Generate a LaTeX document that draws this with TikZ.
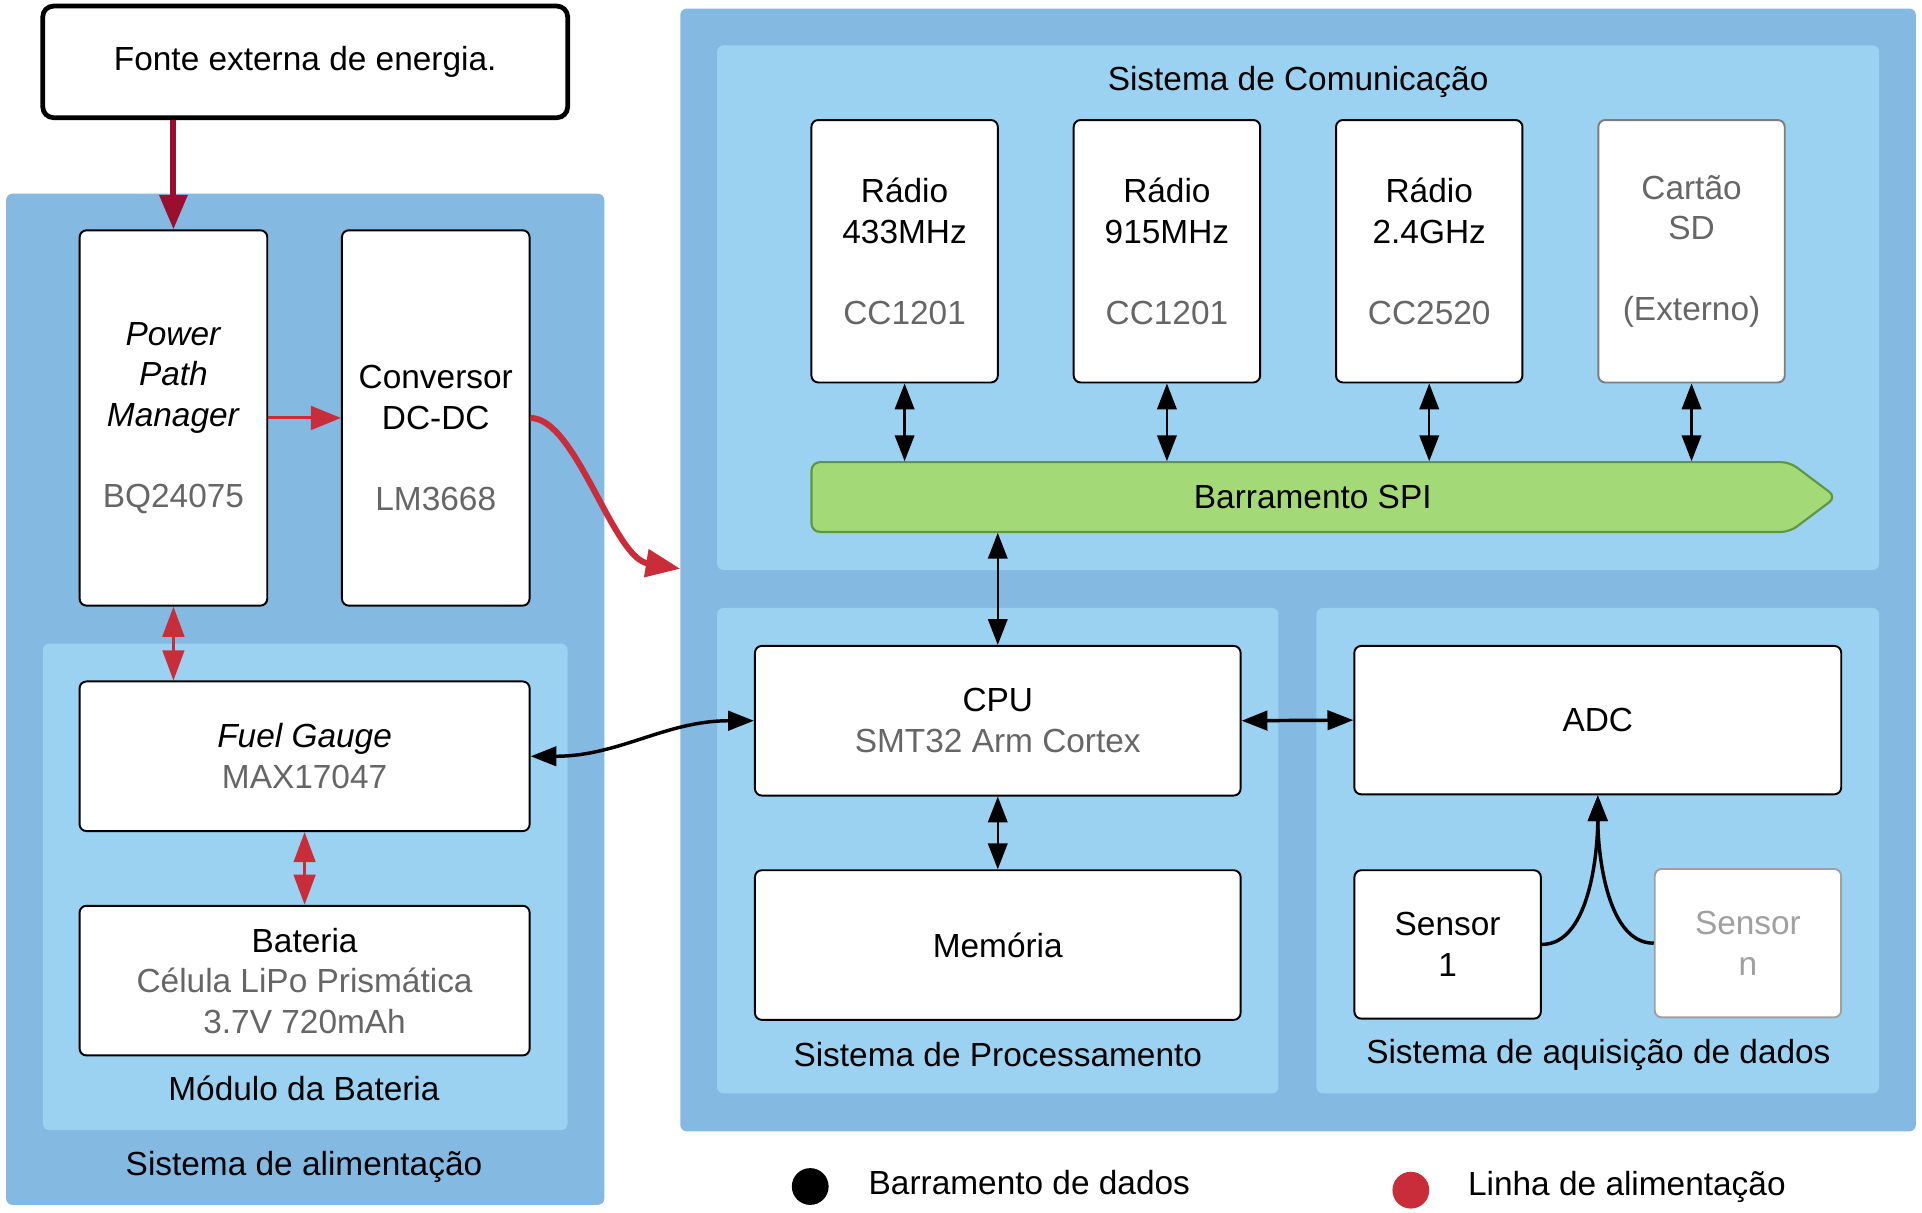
\documentclass[tikz,border=0pt]{standalone}
\usepackage{fontspec}
\setmainfont{Liberation Sans}
\usetikzlibrary{arrows.meta}

\definecolor{outerblue}{RGB}{132,185,226}
\definecolor{innerblue}{RGB}{155,210,242}
\definecolor{busgreen}{RGB}{163,217,119}
\definecolor{busedge}{RGB}{95,150,65}
\definecolor{pwrred}{RGB}{201,45,58}
\definecolor{srcred}{RGB}{155,14,46}
\definecolor{txtgray}{RGB}{102,102,102}
\definecolor{cardgray}{RGB}{125,125,125}
\definecolor{ghost}{RGB}{160,160,160}

\newcommand{\chip}[1]{{\color{txtgray}#1}}

\tikzset{
	box/.style={draw=black,fill=white,rounded corners=1.6pt,line width=0.45pt,align=center,inner sep=0pt},
	panel/.style={fill=outerblue,rounded corners=1.5pt},
	subpanel/.style={fill=innerblue,rounded corners=1.5pt},
	data/.style={line width=0.55pt,{Triangle[length=6pt,width=4.5pt]}-{Triangle[length=6pt,width=4.5pt]}},
	pwr/.style={pwrred,line width=0.7pt,{Triangle[length=7pt,width=5pt]}-{Triangle[length=7pt,width=5pt]}},
	legend/.style={anchor=west,inner sep=0pt}
}

\begin{document}
\begin{tikzpicture}[x=0.01cm,y=-0.01cm,font=\fontsize{7.75}{9.4}\selectfont]
	\useasboundingbox (0,0) rectangle (1568,989);

	%panels
	\fill[panel] (5,158) rectangle (493,983); %alimentacao
	\fill[subpanel] (35,525) rectangle (463,922); %bateria
	\fill[panel] (555,7) rectangle (1563,923);
	\fill[subpanel] (585,37) rectangle (1533,465); %comunicacao
	\fill[subpanel] (585,496) rectangle (1043,892); %processamento
	\fill[subpanel] (1074,496) rectangle (1533,892); %aquisicao
	\coordinate (pin) at (555,464);

	%panel labels
	\node (alim) at (248,952) {Sistema de alimentação};
	\node (modbat) at (248,888) {Módulo da Bateria};
	\node (comm) at (1059,67) {Sistema de Comunicação};
	\node (proc) at (814,860) {Sistema de Processamento};
	\node (aquis) at (1304,861) {Sistema de aquisição de dados};

	%power side
	\node[box,line width=1.1pt,rounded corners=2.5pt,minimum width=4.28cm,minimum height=0.91cm] (fonte) at (249,50.5) {Fonte externa de energia.};
	\node[box,minimum width=1.53cm,minimum height=3.06cm] (ppm) at (141.5,341) {\textit{Power}\\\textit{Path}\\\textit{Manager}\\[9.4pt]\chip{BQ24075}};
	\node[box,minimum width=1.53cm,minimum height=3.06cm] (conv) at (355.5,341) {\vphantom{P}\\Conversor\\DC-DC\\[9.4pt]\chip{LM3668}};
	\node[box,minimum width=3.67cm,minimum height=1.22cm] (fuel) at (248.5,617) {\textit{Fuel Gauge}\\\chip{MAX17047}};
	\node[box,minimum width=3.67cm,minimum height=1.22cm] (bat) at (248.5,800) {Bateria\\\chip{Célula LiPo Prismática}\\\chip{3.7V 720mAh}};

	%comunicacao
	\node[box,minimum width=1.52cm,minimum height=2.14cm] (r433) at (738,205) {Rádio\\433MHz\\[9.4pt]\chip{CC1201}};
	\node[box,minimum width=1.52cm,minimum height=2.14cm] (r915) at (952,205) {Rádio\\915MHz\\[9.4pt]\chip{CC1201}};
	\node[box,minimum width=1.52cm,minimum height=2.14cm] (r24) at (1166,205) {Rádio\\2.4GHz\\[9.4pt]\chip{CC2520}};
	\node[box,draw=cardgray,minimum width=1.52cm,minimum height=2.14cm] (sd) at (1380,205) {\chip{Cartão}\\\chip{SD}\\[9.4pt]\chip{(Externo)}};
	\filldraw[fill=busgreen,draw=busedge,line width=0.5pt,rounded corners=2pt] (662,377) -- (1460,377) -- (1498,405.5) -- (1460,434) -- (662,434) -- cycle; %bus
	\node[minimum height=0.57cm,inner sep=0pt] (spi) at (1071,405.5) {Barramento SPI};

	%processamento + aquisicao
	\node[box,minimum width=3.96cm,minimum height=1.22cm] (cpu) at (814,588) {CPU\\\chip{SMT32 Arm Cortex}};
	\node[box,minimum width=3.96cm,minimum height=1.22cm] (mem) at (814,771) {Memória};
	\node[box,minimum width=3.97cm,minimum height=1.21cm] (adc) at (1303.5,587.5) {ADC};
	\node[box,minimum width=1.52cm,minimum height=1.21cm] (s1) at (1181,770.5) {Sensor\\1};
	\node[box,draw=ghost,text=ghost,minimum width=1.52cm,minimum height=1.21cm] (sn) at (1426,769.5) {Sensor\\n};

	%data lines
	\draw[data] (r433.south) -- (r433.south |- spi.north);
	\draw[data] (r915.south) -- (r915.south |- spi.north);
	\draw[data] (r24.south) -- (r24.south |- spi.north);
	\draw[data] (sd.south) -- (sd.south |- spi.north);
	\draw[data] (cpu.north |- spi.south) -- (cpu.north);
	\draw[data,line width=0.8pt] (cpu.east) -- (adc.west);
	\draw[data] (cpu) -- (mem);
	\draw[data,line width=0.8pt] (fuel.east) to[out=0,in=180] (cpu.west);
	\draw[line width=0.8pt,-{Triangle[length=6pt,width=4.5pt]}] (s1.east) to[out=0,in=-90,looseness=0.8] (adc.south); %sensor 1
	\draw[line width=0.8pt,-{Triangle[length=6pt,width=4.5pt]}] (sn.west) to[out=180,in=-90,looseness=0.8] (adc.south); %sensor n

	%power lines
	\draw[srcred,line width=1.4pt,-{Triangle[length=8pt,width=6.3pt]}] (ppm.north |- fonte.south) -- (ppm.north);
	\draw[pwr,-{Triangle[length=7pt,width=5.5pt]}] (ppm) -- (conv);
	\draw[pwrred,line width=1.4pt,-{Triangle[length=8pt,width=6.3pt]}] (conv.east) .. controls +(37,0) and +(-55,-9) .. (pin);
	\draw[pwr] (ppm.south) -- (ppm.south |- fuel.north);
	\draw[pwr] (fuel) -- (bat);

	%legend
	\node[circle,fill=black,minimum size=0.3cm,inner sep=0pt] (dotdata) at (661,968) {};
	\node[legend] (legdata) at (708,965) {Barramento de dados};
	\node[circle,fill=pwrred,minimum size=0.3cm,inner sep=0pt] (dotpwr) at (1151,971) {};
	\node[legend] (legpwr) at (1197,968) {Linha de alimentação};
\end{tikzpicture}
\end{document}
